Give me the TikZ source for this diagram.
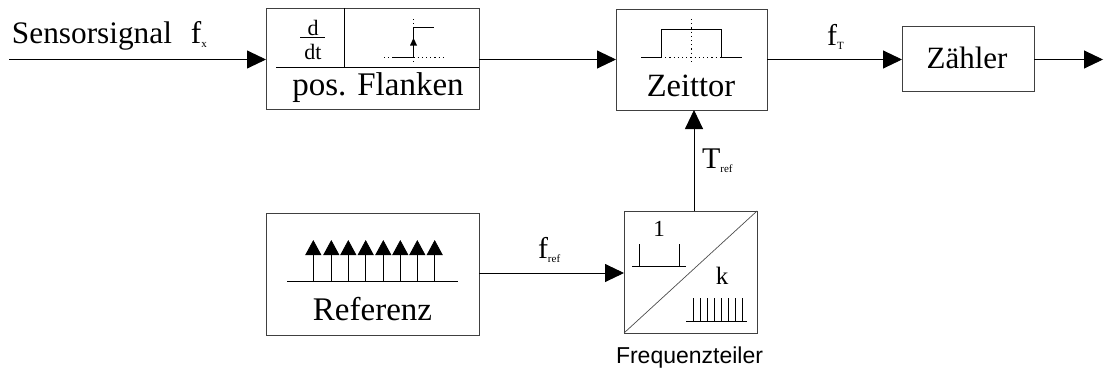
\documentclass[tikz,border=0pt]{standalone}
\usepackage{fontspec}
\setmainfont{Liberation Serif}
\newfontfamily\arialfont{Liberation Sans}
\usetikzlibrary{arrows.meta}
\newcommand\fs[1]{\fontsize{#1}{#1}\selectfont}
\newcommand\lowsub[1]{\raisebox{-4.5pt}{\fs{11}#1}}
\tikzset{
  boxn/.style={draw=black!75,line width=0.9pt,inner sep=0pt,outer sep=0pt},
  conn/.style={line width=0.9pt,-{Triangle[length=19pt,width=18pt]}},
  dotl/.style={line width=0.8pt,dash pattern=on 1.2pt off 3pt},
  thinl/.style={line width=0.8pt},
  smalltip/.style={line width=0.8pt,-{Triangle[length=15pt,width=16pt]}},
  lab/.style={anchor=base west,inner sep=0pt,outer sep=0pt},
  labc/.style={anchor=base,inner sep=0pt,outer sep=0pt}
}
\begin{document}
\begin{tikzpicture}[x=1pt,y=-1pt]
\useasboundingbox (0,0) rectangle (1115,372);
% boxes
\node[boxn,minimum width=213pt,minimum height=101pt] (flank) at (372.5,58.5) {};
\node[boxn,minimum width=151pt,minimum height=101pt] (zeit) at (691.5,59.5) {};
\node[boxn,minimum width=132pt,minimum height=65pt] (zaehl) at (968,58.5) {};
\node[boxn,minimum width=213pt,minimum height=122pt] (refb) at (372.5,274) {};
\node[boxn,minimum width=133pt,minimum height=122pt] (teil) at (690.5,272) {};
% free ends and ports
\coordinate (in) at (9,59.5);
\coordinate (out) at (1103,59.5);
\coordinate (fo) at (479,59.5);
\coordinate (zi) at (616,59.5);
\coordinate (zo) at (767,59.5);
\coordinate (zli) at (902,59.5);
\coordinate (zlo) at (1034,59.5);
\coordinate (ro) at (479,273);
\coordinate (ti) at (624,273);
\coordinate (to) at (694,211);
% connectors
\draw[conn] (in) -- (flank.west |- in);
\draw[conn] (fo) -- (zi);
\draw[conn] (zo) -- (zli);
\draw[conn] (zlo) -- (out);
\draw[conn] (ro) -- (ti);
\draw[conn] (to) -- (to |- zeit.south);
% flanken box
\draw[thinl] (344,8) -- (344,67.5);
\draw[thinl] (276,67.5) -- (479,67.5);
\draw[thinl] (300,37) -- (325,37);
\draw[dotl] (384,57) -- (445,57);
\draw[dotl] (413.5,19) -- (413.5,63);
\draw[thinl] (392,57) -- (413.5,57) -- (413.5,27) -- (434,27);
\fill (413.5,38) -- (417,45.5) -- (410,45.5) -- cycle;
% zeittor pulse
\draw[dotl] (661,57) -- (721,57);
\draw[dotl] (691,19) -- (691,63);
\draw[thinl] (641,57) -- (661,57) -- (661,29) -- (721,29) -- (721,57) -- (742,57);
% referenz comb
\draw[thinl] (287,281) -- (458,281);
\foreach \px in {313.3,331.3,348.3,365.7,383.3,400.3,417.3,434.7}
  \draw[smalltip] (\px,281) -- (\px,240);
% teiler
\draw[line width=0.7pt,black!70] (teil.south west) -- (teil.north east);
\draw[thinl] (632,266) -- (686,266);
\draw[thinl] (639,266) -- (639,244);
\draw[thinl] (679,266) -- (679,244);
\draw[thinl] (686,321) -- (747,321);
\foreach \i in {0,...,7}
  \draw[thinl] (693+7*\i,321) -- (693+7*\i,298);
% text
\node[lab] (t1) at (12,43) {\fs{31.3}Sensorsignal\hspace{19pt}f\lowsub{x}};
\node[labc] (t2) at (313,35) {\fs{22}d};
\node[labc] (t3) at (313,59) {\fs{22}dt};
\node[labc] (t4) at (378,95) {\fs{33}pos. Flanken};
\node[labc] (t5) at (691,96) {\fs{32.5}Zeittor};
\node[labc] (t6) at (967,68) {\fs{31}Zähler};
\node[lab] (t7) at (827,45) {\fs{30}f\lowsub{T}};
\node[labc] (t8) at (372.5,320) {\fs{33}Referenz};
\node[lab] (t9) at (538,258) {\fs{30}f\lowsub{ref}};
\node[lab] (t10) at (702,168) {\fs{30}T\lowsub{ref}};
\node[labc] (t11) at (659,236) {\fs{23}1};
\node[labc] (t12) at (722,284) {\fs{25}k};
\node[labc] (t13) at (689.5,363) {\arialfont\fs{23}Frequenzteiler};
\end{tikzpicture}
\end{document}
